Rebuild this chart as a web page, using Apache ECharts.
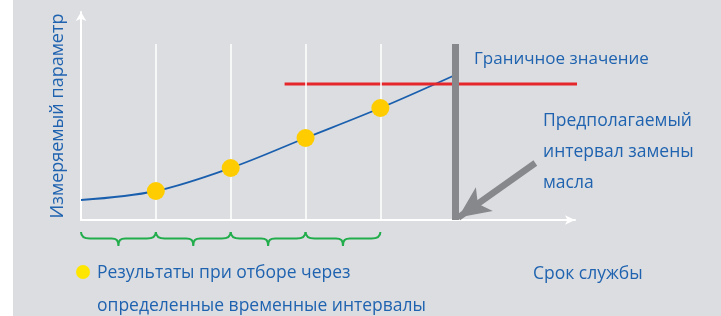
<!DOCTYPE html>
<html>
<head>
<meta charset="utf-8">
<script src="https://cdn.jsdelivr.net/npm/echarts@6/dist/echarts.min.js"></script>
<style>
    html, body { margin: 0; padding: 0; background: #fff; }
    #chart { width: 721px; height: 316px; }
</style>
</head>
<body>
<div id="chart"></div>
<script>
// service time steps (one step = one sampling interval)
var timeSteps = [0, 1, 2, 3, 4, 5];
// measured parameter along the curve
var paramValues = [1.0, 1.45, 2.6, 4.1, 5.6, 7.25];
// sampling moments (indices into timeSteps)
var sampleIdx = [1, 2, 3, 4];
// limit value and its span
var limitValue = 6.8;
var limitSpan = [2.72, 6.83];
// change interval
var changeTime = 5;
var markTop = 8.8;
// sampling intervals shown by braces
var intervals = [[0, 1], [1, 2], [2, 3], [3, 4]];
// arrow pointing to the change interval
var arrowFrom = [6.07, 2.85];
var arrowTo = [5.04, 0.12];

var blue = '#1f63b0';
var font = '"Open Sans", "Noto Sans", sans-serif';

var curveData = timeSteps.map(function (t, i) { return [t, paramValues[i]]; });
var sampleData = sampleIdx.map(function (i) { return [timeSteps[i], paramValues[i]]; });
var gridLines = sampleIdx.map(function (i) {
    return [{ coord: [timeSteps[i], 0] }, { coord: [timeSteps[i], markTop] }];
});

var myChart = echarts.init(document.getElementById('chart'));
var option = {
    backgroundColor: '#dcdde0',
    animation: false,
    grid: { left: 81, right: 146, top: 12, bottom: 96 },
    xAxis: {
        type: 'value', min: 0, max: 6.6,
        axisLine: { show: true, symbol: ['none', 'arrow'], symbolSize: [7, 10], lineStyle: { color: '#fff', width: 2 } },
        axisTick: { show: false }, axisLabel: { show: false }, splitLine: { show: false }
    },
    yAxis: {
        type: 'value', min: 0, max: 10.4,
        name: 'Измеряемый параметр',
        nameLocation: 'middle', nameGap: 14, nameRotate: 90,
        nameTextStyle: { color: blue, fontSize: 18, fontFamily: font },
        axisLine: { show: true, symbol: ['none', 'arrow'], symbolSize: [8, 9], lineStyle: { color: '#fff', width: 2 } },
        axisTick: { show: false }, axisLabel: { show: false }, splitLine: { show: false }
    },
    series: [{
        type: 'line', data: [], z: 1, silent: true,
        markLine: {
            silent: true, symbol: 'none', label: { show: false },
            lineStyle: { color: '#fff', width: 1.5, type: 'solid' },
            data: gridLines
        }
    }, {
        type: 'line', data: curveData, smooth: 0.35, showSymbol: false, z: 2, silent: true,
        lineStyle: { color: '#1a5fae', width: 1.8 }
    }, {
        type: 'line', data: [], z: 3, silent: true,
        markLine: {
            silent: true, symbol: 'none', label: { show: false },
            lineStyle: { color: '#87888b', width: 7, type: 'solid' },
            data: [[{ coord: [changeTime, 0] }, { coord: [changeTime, markTop] }]]
        }
    }, {
        type: 'line', data: [], z: 3, silent: true,
        markLine: {
            silent: true, symbol: ['none', 'arrow'], symbolSize: [22, 32], label: { show: false },
            lineStyle: { color: '#87888b', width: 6.5, type: 'solid' },
            data: [[{ coord: arrowFrom }, { coord: arrowTo }]]
        }
    }, {
        type: 'line', data: [[limitSpan[0], limitValue], [limitSpan[1], limitValue]],
        showSymbol: false, clip: false, z: 4, silent: true,
        lineStyle: { color: '#e5272c', width: 3 }
    }, {
        type: 'scatter', data: sampleData, symbolSize: 18, z: 5, silent: true,
        itemStyle: { color: '#ffcc00', opacity: 1 }
    }, {
        type: 'custom', data: intervals, encode: { x: [0, 1] }, z: 5, silent: true,
        renderItem: function (params, api) {
            var p0 = api.coord([api.value(0), 0]);
            var p1 = api.coord([api.value(1), 0]);
            var x0 = p0[0], x1 = p1[0], y = p0[1], m = (x0 + x1) / 2;
            var d = 'M' + x0 + ',' + (y + 12) +
                ' C' + x0 + ',' + (y + 17) + ' ' + (x0 + 4) + ',' + (y + 18.5) + ' ' + (x0 + 9) + ',' + (y + 18.5) +
                ' L' + (m - 7) + ',' + (y + 18.5) +
                ' C' + (m - 2) + ',' + (y + 18.5) + ' ' + m + ',' + (y + 20) + ' ' + m + ',' + (y + 26) +
                ' C' + m + ',' + (y + 20) + ' ' + (m + 2) + ',' + (y + 18.5) + ' ' + (m + 7) + ',' + (y + 18.5) +
                ' L' + (x1 - 9) + ',' + (y + 18.5) +
                ' C' + (x1 - 4) + ',' + (y + 18.5) + ' ' + x1 + ',' + (y + 17) + ' ' + x1 + ',' + (y + 12);
            return {
                type: 'path',
                shape: { pathData: d },
                style: { fill: 'none', stroke: '#22ad4c', lineWidth: 2 }
            };
        }
    }],
    graphic: [
        { type: 'rect', shape: { x: 0, y: 0, width: 13, height: 316 }, style: { fill: '#fff' }, silent: true },
        { type: 'text', x: 474, y: 59, style: { text: 'Граничное значение', fill: blue, font: '17px ' + font, textVerticalAlign: 'middle' } },
        { type: 'text', x: 543, y: 105.5, style: { text: 'Предполагаемый\nинтервал замены\nмасла', fill: blue, font: '17.5px ' + font, lineHeight: 31, textVerticalAlign: 'top' } },
        { type: 'text', x: 533, y: 274, style: { text: 'Срок службы', fill: blue, font: '17.5px ' + font, textVerticalAlign: 'middle' } },
        { type: 'circle', shape: { cx: 83, cy: 272, r: 7 }, style: { fill: '#ffe600' }, silent: true },
        { type: 'text', x: 97, y: 257, style: { text: 'Результаты при отборе через\nопределенные временные интервалы', fill: blue, font: '17.5px ' + font, lineHeight: 33, textVerticalAlign: 'top' } }
    ]
};
myChart.setOption(option);
</script>
</body>
</html>
